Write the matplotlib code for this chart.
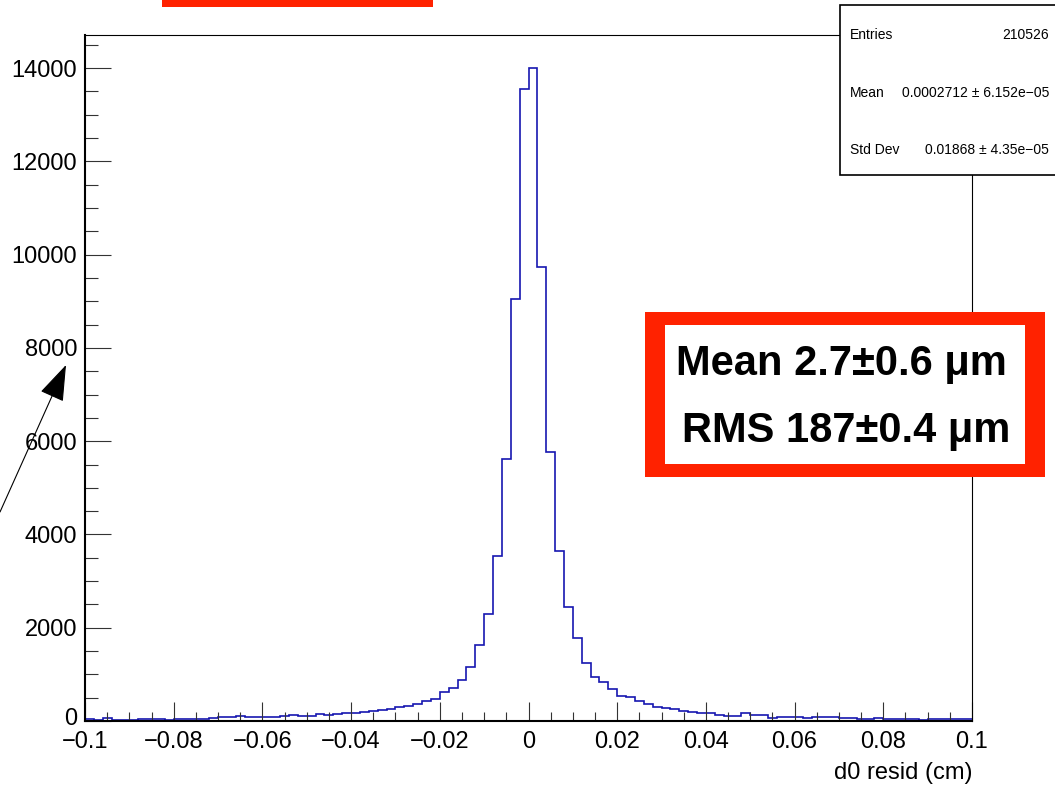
import numpy as np
import matplotlib
matplotlib.use('Agg')
import matplotlib.pyplot as plt
import matplotlib.transforms as mtransforms
from matplotlib.patches import Rectangle, FancyArrowPatch
from matplotlib.ticker import MultipleLocator

plt.rcParams['font.family'] = ['Liberation Sans', 'DejaVu Sans']

# d0 residual histogram, 100 bins from -0.1 to 0.1 cm
edges = np.linspace(-0.1, 0.1, 101)
counts = [40, 15, 55, 20, 20, 30, 35, 50, 45, 30,
          40, 45, 50, 50, 65, 80, 85, 100, 85, 85,
          93, 93, 107, 136, 115, 115, 157, 136, 157, 164,
          171, 193, 221, 230, 250, 300, 330, 360, 436, 465,
          622, 708, 886, 1150, 1630, 2294, 3540, 5610, 9041, 13550,
          14000, 9741, 5765, 3645, 2451, 1773, 1251, 950, 836, 693,
          536, 521, 429, 365, 293, 279, 264, 221, 193, 171,
          164, 136, 114, 114, 178, 128, 121, 71, 93, 93,
          79, 71, 79, 86, 79, 71, 57, 36, 36, 64,
          50, 43, 36, 50, 29, 36, 36, 36, 43, 43]

xticks = [-0.1, -0.08, -0.06, -0.04, -0.02, 0, 0.02, 0.04, 0.06, 0.08, 0.1]
xticklabels = ['\u22120.1', '\u22120.08', '\u22120.06', '\u22120.04', '\u22120.02',
               '0', '0.02', '0.04', '0.06', '0.08', '0.1']
yticks = [0, 2000, 4000, 6000, 8000, 10000, 12000, 14000]

stats_names = ['Entries', 'Mean', 'Std Dev']
stats_vals = ['210526', '0.0002712 \u00b1 6.152e\u221205', '0.01868 \u00b1 4.35e\u221205']
box_lines = ['Mean 2.7\u00b10.6 \u03bcm', 'RMS 187\u00b10.4 \u03bcm']

W, H = 1055, 788
fig = plt.figure(figsize=(W / 100, H / 100), dpi=100)


def fx(px):
    return px / W


def fy(py):
    return 1 - py / H


ax = fig.add_axes([fx(85), fy(721), fx(972) - fx(85), fy(35) - fy(721)])
ax.stairs(counts, edges, color='#1616b0', linewidth=1.2, baseline=None)
ax.set_xlim(-0.1, 0.1)
ax.set_ylim(0, 14710)

ax.set_xticks(xticks)
ax.set_xticklabels(xticklabels)
ax.set_yticks(yticks)
ax.xaxis.set_minor_locator(MultipleLocator(0.005))
ax.yaxis.set_minor_locator(MultipleLocator(500))
ax.tick_params(axis='x', which='major', direction='in', length=13.7, width=0.8,
               color='#333333', labelsize=17, pad=7, top=False)
ax.tick_params(axis='x', which='minor', direction='in', length=6.5, width=0.8,
               color='#333333', top=False)
ax.tick_params(axis='y', which='major', direction='in', length=18.7, width=0.8,
               color='#333333', labelsize=17, pad=5.5, right=False)
ax.tick_params(axis='y', which='minor', direction='in', length=9.4, width=0.8,
               color='#333333', right=False)
for s in ['left', 'bottom']:
    ax.spines[s].set_linewidth(1.5)
for s in ['top', 'right']:
    ax.spines[s].set_linewidth(0.8)

# nudge the y "0" label up a little so it does not sit on the x "-0.1" label
lab0 = ax.get_yticklabels()[0]
lab0.set_transform(lab0.get_transform() +
                   mtransforms.ScaledTranslation(0, 3 / 72, fig.dpi_scale_trans))

fig.text(fx(973), fy(779), 'd0 resid (cm)', ha='right', va='baseline', fontsize=17)

# stats box
fig.patches.append(Rectangle((fx(840), fy(175)), fx(1070) - fx(840), fy(5) - fy(175),
                             transform=fig.transFigure, facecolor='white',
                             edgecolor='black', linewidth=1.2, zorder=5))
for name, val, base in zip(stats_names, stats_vals, [39, 97, 154]):
    fig.text(fx(850), fy(base), name, ha='left', va='baseline', fontsize=10, zorder=6)
    fig.text(fx(1049), fy(base), val, ha='right', va='baseline', fontsize=10, zorder=6)

# red boxes
red = '#ff2200'
fig.patches.append(Rectangle((fx(162), fy(7)), fx(433) - fx(162), fy(0) - fy(7),
                             transform=fig.transFigure, facecolor=red,
                             edgecolor='none', zorder=5))
fig.patches.append(Rectangle((fx(645), fy(477)), fx(1045) - fx(645), fy(312) - fy(477),
                             transform=fig.transFigure, facecolor=red,
                             edgecolor='none', zorder=5))
fig.patches.append(Rectangle((fx(665), fy(464)), fx(1025) - fx(665), fy(325) - fy(464),
                             transform=fig.transFigure, facecolor='white',
                             edgecolor='none', zorder=6))
fig.text(fx(841), fy(375), box_lines[0], ha='center', va='baseline',
         fontsize=30, fontweight='bold', zorder=7)
fig.text(fx(846), fy(442), box_lines[1], ha='center', va='baseline',
         fontsize=30, fontweight='bold', zorder=7)

# arrow
arr = FancyArrowPatch((fx(0), fy(512)), (fx(66), fy(365)), transform=fig.transFigure,
                      arrowstyle='-|>,head_length=23,head_width=8', mutation_scale=1,
                      color='black', linewidth=0.8, zorder=5, shrinkA=0, shrinkB=0)
fig.patches.append(arr)

fig.savefig('out.png', dpi=100)
